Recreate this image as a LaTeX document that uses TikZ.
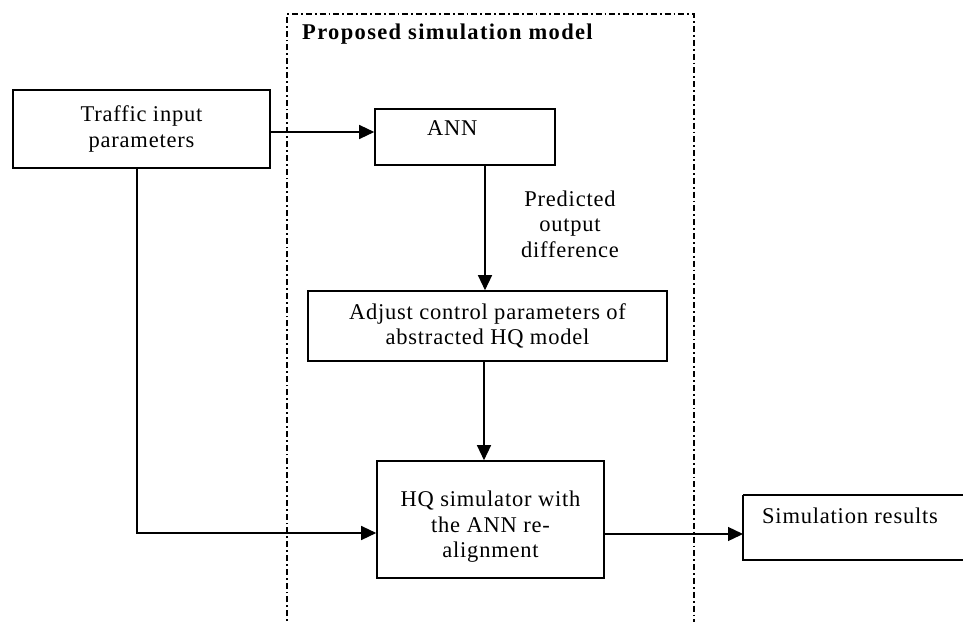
\documentclass[tikz,border=0pt]{standalone}
\usepackage{fontspec}
\setmainfont{Liberation Serif}[LetterSpace=3.5]
\usetikzlibrary{arrows.meta}
\tikzset{
  x=1pt, y=-1pt,
  box/.style={draw, line width=1.6pt, rectangle, inner sep=0pt, align=center, font=\fontsize{22.5}{25.5}\selectfont},
  txt/.style={inner sep=0pt, align=center, font=\fontsize{22.5}{25.5}\selectfont},
  conn/.style={line width=1.3pt, -{Triangle[length=15pt,width=14pt]}},
  frame/.style={line width=1.5pt, dash pattern=on 6pt off 3pt on 1.8pt off 3pt},
}
\begin{document}
\begin{tikzpicture}
\useasboundingbox (0,0) rectangle (963,621);
% dashed frame (open at the bottom)
\draw[frame] (287,630) -- (287,14) -- (694,14) -- (694,630);
\node[txt, anchor=west, font=\fontsize{22.5}{25.5}\selectfont\bfseries\addfontfeatures{LetterSpace=6}] (title) at (302,34) {Proposed simulation model};
% boxes
\node[box, minimum width=257pt, minimum height=78pt] (traffic) at (141.5,129) {Traffic input\\parameters};
\node[box, minimum width=180pt, minimum height=56pt] (ann) at (465,137) {};
\node[txt, anchor=west] (anntxt) at (427,128) {ANN};
\node[box, minimum width=359pt, minimum height=70pt] (adjust) at (487.5,326) {Adjust control parameters of\\abstracted HQ model};
\node[box, minimum width=227pt, minimum height=117pt] (hq) at (490.5,519.5) {};
\node[txt] (hqtxt) at (490.5,527) {HQ simulator with\\the ANN re-\\alignment};
\draw[line width=1.4pt] (743,495) -- (985,495) (743,495) -- (743,560) -- (985,560);
\coordinate (sim) at (743,534);
\node[txt, anchor=west] (simtxt) at (762,516) {Simulation results};
\node[txt] (lbl) at (570,224) {Predicted\\output\\difference};
% connectors
\draw[conn] (traffic.east |- 0,132) -- (ann.west |- 0,132);
\draw[conn] (ann.south -| 485,0) -- (adjust.north -| 485,0);
\draw[conn] (adjust.south -| 484,0) -- (hq.north -| 484,0);
\draw[conn] (traffic.south -| 137,0) -- (137,533) -- (hq.west |- 0,533);
\draw[conn] (hq.east |- 0,534) -- (sim);
\end{tikzpicture}
\end{document}
